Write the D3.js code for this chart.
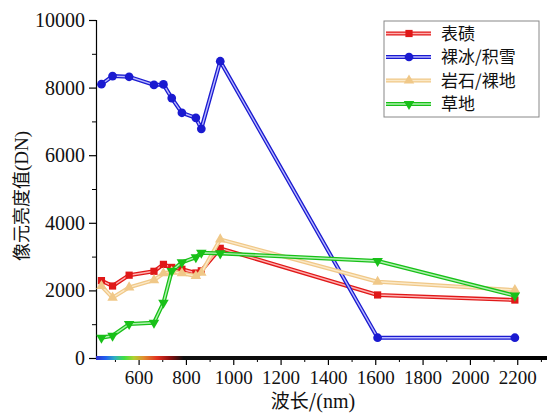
<!DOCTYPE html>
<html>
<head>
<meta charset="utf-8">
<script src="https://cdn.jsdelivr.net/npm/d3@7"></script>
<style>
  body { margin: 0; background: #fff; }
  svg { display: block; }
  .tick text { font-family: "Liberation Serif", "DejaVu Serif", "Times New Roman", serif; }
</style>
</head>
<body>
<svg id="chart" width="547" height="414"></svg>
<script>
// Sentinel-2 band centres (nm)
var wavelengths = [443, 490, 560, 665, 705, 740, 783, 842, 865, 945, 1610, 2190];

var moraine = [2290, 2130, 2450, 2565, 2770, 2680, 2625, 2515, 2580, 3245, 1865, 1715];
var iceSnow = [8100, 8340, 8320, 8080, 8095, 7690, 7255, 7105, 6780, 8780, 600, 600];
var rockBare = [2130, 1785, 2090, 2305, 2505, 2550, 2505, 2425, 2520, 3510, 2255, 2010];
var grass = [600, 660, 1005, 1045, 1635, 2575, 2830, 2980, 3115, 3095, 2870, 1845];

var seriesNames = ['表碛', '裸冰/积雪', '岩石/裸地', '草地'];
var xTicks = [600, 800, 1000, 1200, 1400, 1600, 1800, 2000, 2200];
var yTicks = [0, 2000, 4000, 6000, 8000, 10000];

var series = [
    { name: seriesNames[0], values: moraine, color: '#e01818', inner: '#ffb0b0', symbol: d3.symbolSquare, size: 52 },
    { name: seriesNames[1], values: iceSnow, color: '#1a1ad0', inner: '#b8b8ff', symbol: d3.symbolCircle, size: 60 },
    { name: seriesNames[2], values: rockBare, color: '#f0c888', inner: '#fbe9c8', symbol: d3.symbolTriangle, size: 48 },
    { name: seriesNames[3], values: grass, color: '#18c018', inner: '#b0f0b0', symbol: d3.symbolTriangle, size: 48, flip: true }
];

var serif = '"Liberation Serif", "DejaVu Serif", serif';
var cjk = '"Noto Sans CJK SC", sans-serif';

var svg = d3.select('#chart');

var x = d3.scaleLinear().domain([420, 2330]).range([96, 548]);
var y = d3.scaleLinear().domain([0, 10000]).range([358, 20]);

// spectrum gradient along the x axis
var defs = svg.append('defs');
var grad = defs.append('linearGradient')
    .attr('id', 'spec')
    .attr('gradientUnits', 'userSpaceOnUse')
    .attr('x1', x(420)).attr('x2', x(2330))
    .attr('y1', 0).attr('y2', 0);
var stops = [
    [420, '#3030d0'], [460, '#2060f0'], [500, '#30b0c0'], [540, '#40e040'],
    [580, '#b0d030'], [620, '#e09030'], [680, '#e03020'], [730, '#901010'],
    [790, '#101010'], [2330, '#000000']
];
stops.forEach(function (s) {
    grad.append('stop')
        .attr('offset', ((s[0] - 420) / (2330 - 420) * 100) + '%')
        .attr('stop-color', s[1]);
});

// y axis
var yAxis = d3.axisLeft(y).tickValues(yTicks).tickSize(7).tickPadding(4).tickFormat(d3.format('d'));
var gy = svg.append('g')
    .attr('transform', 'translate(' + x(420) + ',0)')
    .call(yAxis)
    .attr('font-family', serif)
    .attr('font-size', 20);
gy.select('.domain').attr('stroke', '#000').attr('stroke-width', 1.2);
gy.selectAll('.tick line').attr('stroke-width', 1.2);
gy.selectAll('.tick text').attr('fill', '#111');

var yMinor = d3.axisLeft(y).tickValues([1000, 3000, 5000, 7000, 9000]).tickSize(4).tickFormat('');
svg.append('g')
    .attr('transform', 'translate(' + x(420) + ',0)')
    .call(yMinor)
    .call(function (g) { g.select('.domain').remove(); });

// x axis
var xAxis = d3.axisBottom(x).tickValues(xTicks).tickSize(7).tickPadding(6).tickFormat(d3.format('d'));
var gx = svg.append('g')
    .attr('transform', 'translate(0,' + y(0) + ')')
    .call(xAxis)
    .attr('font-family', serif)
    .attr('font-size', 19);
gx.select('.domain').remove();
gx.selectAll('.tick line').attr('stroke-width', 1.2);
gx.selectAll('.tick text').attr('fill', '#111');

var xMinor = d3.axisBottom(x).tickValues([500, 700, 900, 1100, 1300, 1500, 1700, 1900, 2100, 2300]).tickSize(4).tickFormat('');
svg.append('g')
    .attr('transform', 'translate(0,' + y(0) + ')')
    .call(xMinor)
    .call(function (g) { g.select('.domain').remove(); });

svg.append('rect')
    .attr('x', x(420)).attr('y', y(0) - 2)
    .attr('width', x(2330) - x(420)).attr('height', 4)
    .attr('fill', 'url(#spec)');

// axis titles
var xt = svg.append('text')
    .attr('x', 313).attr('y', 408)
    .attr('text-anchor', 'middle')
    .attr('fill', '#111')
    .style('font-size', '19px');
xt.append('tspan').style('font-family', cjk).text('波长/');
xt.append('tspan').style('font-family', serif).style('font-size', '20px').text('(nm)');

var yt = svg.append('text')
    .attr('transform', 'translate(28,196) rotate(-90)')
    .attr('text-anchor', 'middle')
    .attr('fill', '#111')
    .style('font-size', '18px');
yt.append('tspan').style('font-family', cjk).text('像元亮度值');
yt.append('tspan').style('font-family', serif).style('font-size', '19px').text('(DN)');

// lines
var line = d3.line()
    .x(function (d) { return x(d[0]); })
    .y(function (d) { return y(d[1]); });

series.forEach(function (s) {
    var pts = wavelengths.map(function (w, i) { return [w, s.values[i]]; });
    svg.append('path').datum(pts)
        .attr('d', line).attr('fill', 'none')
        .attr('stroke', s.color).attr('stroke-width', 4)
        .attr('stroke-linejoin', 'round');
    svg.append('path').datum(pts)
        .attr('d', line).attr('fill', 'none')
        .attr('stroke', s.inner).attr('stroke-width', 1.4)
        .attr('stroke-linejoin', 'round');
    svg.append('g').selectAll('path')
        .data(pts)
        .enter().append('path')
        .attr('d', d3.symbol().type(s.symbol).size(s.size))
        .attr('transform', function (d) {
            return 'translate(' + x(d[0]) + ',' + y(d[1]) + ')' + (s.flip ? ' rotate(180)' : '');
        })
        .attr('fill', s.color);
});

// legend
var legend = svg.append('g').attr('transform', 'translate(384,21)');
legend.append('rect')
    .attr('width', 155).attr('height', 96)
    .attr('fill', '#fff').attr('stroke', '#888').attr('stroke-width', 1);

var item = legend.selectAll('.item')
    .data(series)
    .enter().append('g')
    .attr('transform', function (d, i) { return 'translate(0,' + (12.5 + i * 23.5) + ')'; });

item.append('line')
    .attr('x1', 2).attr('x2', 47).attr('y1', 0).attr('y2', 0)
    .attr('stroke', function (d) { return d.color; }).attr('stroke-width', 4);
item.append('line')
    .attr('x1', 2).attr('x2', 47).attr('y1', 0).attr('y2', 0)
    .attr('stroke', function (d) { return d.inner; }).attr('stroke-width', 1.4);
item.append('path')
    .attr('d', function (d) { return d3.symbol().type(d.symbol).size(d.size)(); })
    .attr('transform', function (d) { return 'translate(25,0)' + (d.flip ? ' rotate(180)' : ''); })
    .attr('fill', function (d) { return d.color; });
item.append('text')
    .attr('x', 57).attr('y', 6)
    .style('font-family', cjk)
    .style('font-size', '17px')
    .attr('fill', '#111')
    .text(function (d) { return d.name; });
</script>
</body>
</html>
